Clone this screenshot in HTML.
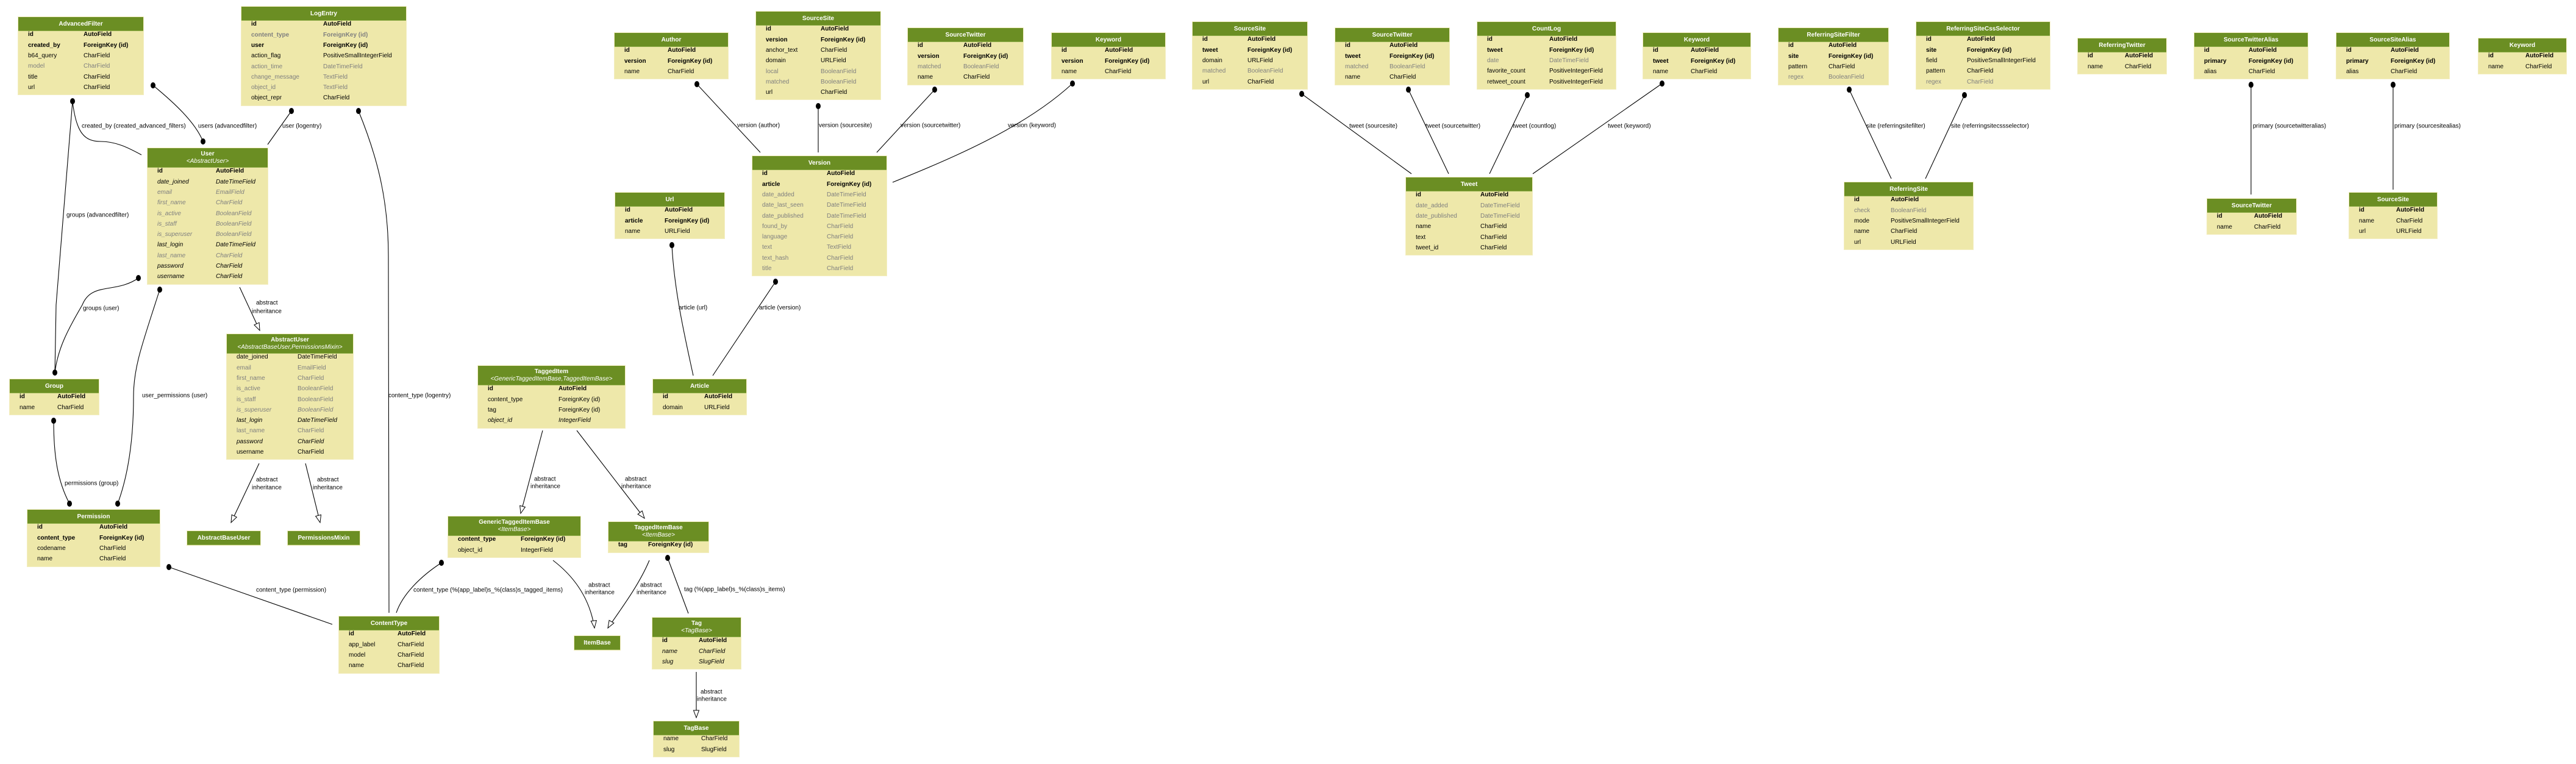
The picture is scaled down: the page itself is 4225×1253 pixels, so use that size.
<!DOCTYPE html>
<html><head><meta charset="utf-8">
<style>
html,body{margin:0;padding:0;background:#fff;}
body{width:4225px;height:1253px;position:relative;overflow:hidden;font-family:"Liberation Sans",Arial,sans-serif;font-size:10px;}
svg{position:absolute;left:0;top:0;}
.t{position:absolute;background:#eee8aa;box-shadow:0 0 0 1px #f3eec2;}
.h{background:#6b8e23;color:#fff;font-weight:bold;text-align:center;height:23px;line-height:23px;white-space:nowrap;border-bottom:1px solid #8fad4a;box-sizing:border-box;}
.h2{height:32px;line-height:12px;padding-top:4px;}
.h2 i{font-weight:normal;display:block;}
.b{padding:0 0 3px;}
.b p{margin:0;height:17.3px;line-height:17.3px;position:relative;white-space:nowrap;color:#000;}
.b p:first-child{margin-top:-2.6px;}
.b p span{position:absolute;left:16px;}
.b p span+span{left:var(--c);}
.B{font-weight:bold;}
.G{color:#7f7f7f !important;}
.GB{color:#7f7f7f !important;font-weight:bold;}
.I{font-style:italic;}
.GI{color:#7f7f7f !important;font-style:italic;}
.o{position:absolute;}
</style></head><body>
<svg width="4225" height="1253" viewBox="0 0 4225 1253" font-family="Liberation Sans, Arial, sans-serif" font-size="10">
<g fill="none" stroke="#000" stroke-width="1.1">
<path d="M119,166 C125,220 140,232 165,232 C190,232 210,242 232,254"/>
<path d="M119,166 L92,500 L90,611"/>
<path d="M251,140 C285,168 320,200 333,232"/>
<path d="M478,182 L439,237"/>
<path d="M588,182 C620,260 637,330 637,420 L638,1005"/>
<path d="M227,456 C190,482 150,462 135,500 C112,540 95,570 90,611"/>
<path d="M262,475 C235,560 219,600 219,650 C219,720 210,780 193,826"/>
<path d="M88,690 C88,750 95,790 114,826"/>
<path d="M393,471 L426,542"/>
<path d="M425,760 L379,857"/>
<path d="M501,760 L525,857"/>
<path d="M277,930 L545,1024"/>
<path d="M724,923 C690,945 660,975 650,1005"/>
<path d="M890,706 L854,842"/>
<path d="M946,706 L1057,850"/>
<path d="M907,919 C945,948 968,985 975,1030"/>
<path d="M1065,919 C1050,955 1025,990 997,1030"/>
<path d="M1095,915 L1129,1006"/>
<path d="M1142,1102 L1142,1177"/>
<path d="M1143,138 L1247,250"/>
<path d="M1342,174 L1342,250"/>
<path d="M1533,147 L1438,250"/>
<path d="M1759,137 C1680,210 1560,260 1464,299"/>
<path d="M1102,402 C1106,480 1125,560 1137,616"/>
<path d="M1272,462 L1169,616"/>
<path d="M2135,154 L2315,285"/>
<path d="M2310,147 L2376,285"/>
<path d="M2505,156 L2443,285"/>
<path d="M2726,137 L2514,285"/>
<path d="M3033,147 L3102,293"/>
<path d="M3222,156 L3158,293"/>
<path d="M3692,139 L3692,319"/>
<path d="M3925,139 L3925,311"/>
</g>
<g fill="#fff" stroke="#000" stroke-width="1">
<polygon points="426,542 425.1,529.1 416.9,532.9"/>
<polygon points="379,857 388.2,848.1 380.1,844.3"/>
<polygon points="525,857 526.5,844.3 517.7,846.5"/>
<polygon points="854,842 861.4,831.6 852.7,829.3"/>
<polygon points="1057,850 1053.2,837.8 1046.1,843.3"/>
<polygon points="975,1030 978.3,1017.6 969.3,1018.5"/>
<polygon points="997,1030 1006.9,1021.8 999.1,1017.3"/>
<polygon points="1142,1177 1146.5,1165 1137.5,1165"/>
</g>
<g fill="#000">
<ellipse cx="119" cy="166" rx="4" ry="5"/>
<ellipse cx="251" cy="140" rx="4" ry="5"/>
<ellipse cx="333" cy="232" rx="4" ry="5"/>
<ellipse cx="478" cy="182" rx="4" ry="5"/>
<ellipse cx="588" cy="182" rx="4" ry="5"/>
<ellipse cx="227" cy="456" rx="4" ry="5"/>
<ellipse cx="262" cy="475" rx="4" ry="5"/>
<ellipse cx="90" cy="611" rx="4" ry="5"/>
<ellipse cx="88" cy="690" rx="4" ry="5"/>
<ellipse cx="114" cy="826" rx="4" ry="5"/>
<ellipse cx="193" cy="826" rx="4" ry="5"/>
<ellipse cx="277" cy="930" rx="4" ry="5"/>
<ellipse cx="724" cy="923" rx="4" ry="5"/>
<ellipse cx="1095" cy="915" rx="4" ry="5"/>
<ellipse cx="1143" cy="138" rx="4" ry="5"/>
<ellipse cx="1342" cy="174" rx="4" ry="5"/>
<ellipse cx="1533" cy="147" rx="4" ry="5"/>
<ellipse cx="1759" cy="137" rx="4" ry="5"/>
<ellipse cx="1102" cy="402" rx="4" ry="5"/>
<ellipse cx="1272" cy="462" rx="4" ry="5"/>
<ellipse cx="2135" cy="154" rx="4" ry="5"/>
<ellipse cx="2310" cy="147" rx="4" ry="5"/>
<ellipse cx="2505" cy="156" rx="4" ry="5"/>
<ellipse cx="2726" cy="137" rx="4" ry="5"/>
<ellipse cx="3033" cy="147" rx="4" ry="5"/>
<ellipse cx="3222" cy="156" rx="4" ry="5"/>
<ellipse cx="3692" cy="139" rx="4" ry="5"/>
<ellipse cx="3925" cy="139" rx="4" ry="5"/>
</g>
<g fill="#000" dominant-baseline="central">
<text x="134" y="207">created_by (created_advanced_filters)</text>
<text x="325" y="207">users (advancedfilter)</text>
<text x="463" y="207">user (logentry)</text>
<text x="109" y="353">groups (advancedfilter)</text>
<text x="136" y="506">groups (user)</text>
<text x="233" y="649">user_permissions (user)</text>
<text x="637" y="649">content_type (logentry)</text>
<text x="106" y="793">permissions (group)</text>
<text x="420" y="497">abstract</text><text x="413" y="511">inheritance</text>
<text x="420" y="787">abstract</text><text x="413" y="800">inheritance</text>
<text x="520" y="787">abstract</text><text x="513" y="800">inheritance</text>
<text x="420" y="968">content_type (permission)</text>
<text x="678" y="968">content_type (%(app_label)s_%(class)s_tagged_items)</text>
<text x="876" y="786">abstract</text><text x="870" y="798">inheritance</text>
<text x="1025" y="786">abstract</text><text x="1019" y="798">inheritance</text>
<text x="965" y="960">abstract</text><text x="959" y="972">inheritance</text>
<text x="1050" y="960">abstract</text><text x="1044" y="972">inheritance</text>
<text x="1122" y="967">tag (%(app_label)s_%(class)s_items)</text>
<text x="1149" y="1135">abstract</text><text x="1143" y="1147">inheritance</text>
<text x="1209" y="206">version (author)</text>
<text x="1343" y="206">version (sourcesite)</text>
<text x="1477" y="206">version (sourcetwitter)</text>
<text x="1653" y="206">version (keyword)</text>
<text x="1113" y="505">article (url)</text>
<text x="1245" y="505">article (version)</text>
<text x="2213" y="207">tweet (sourcesite)</text>
<text x="2338" y="207">tweet (sourcetwitter)</text>
<text x="2481" y="207">tweet (countlog)</text>
<text x="2637" y="207">tweet (keyword)</text>
<text x="3061" y="207">site (referringsitefilter)</text>
<text x="3200" y="207">site (referringsitecssselector)</text>
<text x="3695" y="207">primary (sourcetwitteralias)</text>
<text x="3927" y="207">primary (sourcesitealias)</text>
</g>
</svg>

<div class="t" style="left:30px;top:28px;width:205px;--c:107px"><div class="h">AdvancedFilter</div><div class="b">
<p class="B"><span>id</span><span>AutoField</span></p>
<p class="B"><span>created_by</span><span>ForeignKey (id)</span></p>
<p><span>b64_query</span><span>CharField</span></p>
<p class="G"><span>model</span><span>CharField</span></p>
<p><span>title</span><span>CharField</span></p>
<p><span>url</span><span>CharField</span></p></div></div>

<div class="t" style="left:396px;top:11px;width:270px;--c:134px"><div class="h">LogEntry</div><div class="b">
<p class="B"><span>id</span><span>AutoField</span></p>
<p class="GB"><span>content_type</span><span>ForeignKey (id)</span></p>
<p class="B"><span>user</span><span>ForeignKey (id)</span></p>
<p><span>action_flag</span><span>PositiveSmallIntegerField</span></p>
<p class="G"><span>action_time</span><span>DateTimeField</span></p>
<p class="G"><span>change_message</span><span>TextField</span></p>
<p class="G"><span>object_id</span><span>TextField</span></p>
<p><span>object_repr</span><span>CharField</span></p></div></div>

<div class="t" style="left:242px;top:243px;width:197px;--c:112px"><div class="h h2">User<i>&lt;AbstractUser&gt;</i></div><div class="b">
<p class="B"><span>id</span><span>AutoField</span></p>
<p class="I"><span>date_joined</span><span>DateTimeField</span></p>
<p class="GI"><span>email</span><span>EmailField</span></p>
<p class="GI"><span>first_name</span><span>CharField</span></p>
<p class="GI"><span>is_active</span><span>BooleanField</span></p>
<p class="GI"><span>is_staff</span><span>BooleanField</span></p>
<p class="GI"><span>is_superuser</span><span>BooleanField</span></p>
<p class="I"><span>last_login</span><span>DateTimeField</span></p>
<p class="GI"><span>last_name</span><span>CharField</span></p>
<p class="I"><span>password</span><span>CharField</span></p>
<p class="I"><span>username</span><span>CharField</span></p></div></div>

<div class="t" style="left:372px;top:548px;width:207px;--c:116px"><div class="h h2">AbstractUser<i>&lt;AbstractBaseUser,PermissionsMixin&gt;</i></div><div class="b">
<p><span>date_joined</span><span>DateTimeField</span></p>
<p class="G"><span>email</span><span>EmailField</span></p>
<p class="G"><span>first_name</span><span>CharField</span></p>
<p class="G"><span>is_active</span><span>BooleanField</span></p>
<p class="G"><span>is_staff</span><span>BooleanField</span></p>
<p class="GI"><span>is_superuser</span><span>BooleanField</span></p>
<p class="I"><span>last_login</span><span>DateTimeField</span></p>
<p class="G"><span>last_name</span><span>CharField</span></p>
<p class="I"><span>password</span><span>CharField</span></p>
<p><span>username</span><span>CharField</span></p></div></div>

<div class="t" style="left:16px;top:622px;width:146px;--c:78px"><div class="h">Group</div><div class="b">
<p class="B"><span>id</span><span>AutoField</span></p>
<p><span>name</span><span>CharField</span></p></div></div>

<div class="t" style="left:45px;top:836px;width:217px;--c:118px"><div class="h">Permission</div><div class="b">
<p class="B"><span>id</span><span>AutoField</span></p>
<p class="B"><span>content_type</span><span>ForeignKey (id)</span></p>
<p><span>codename</span><span>CharField</span></p>
<p><span>name</span><span>CharField</span></p></div></div>

<div class="t" style="left:307px;top:871px;width:120px;"><div class="h">AbstractBaseUser</div></div>
<div class="t" style="left:472px;top:871px;width:118px;"><div class="h">PermissionsMixin</div></div>

<div class="t" style="left:556px;top:1011px;width:164px;--c:96px"><div class="h">ContentType</div><div class="b">
<p class="B"><span>id</span><span>AutoField</span></p>
<p><span>app_label</span><span>CharField</span></p>
<p><span>model</span><span>CharField</span></p>
<p><span>name</span><span>CharField</span></p></div></div>

<div class="t" style="left:784px;top:600px;width:241px;--c:132px"><div class="h h2">TaggedItem<i>&lt;GenericTaggedItemBase,TaggedItemBase&gt;</i></div><div class="b">
<p class="B"><span>id</span><span>AutoField</span></p>
<p><span>content_type</span><span>ForeignKey (id)</span></p>
<p><span>tag</span><span>ForeignKey (id)</span></p>
<p class="I"><span>object_id</span><span>IntegerField</span></p></div></div>

<div class="t" style="left:1071px;top:622px;width:153px;--c:84px"><div class="h">Article</div><div class="b">
<p class="B"><span>id</span><span>AutoField</span></p>
<p><span>domain</span><span>URLField</span></p></div></div>

<div class="t" style="left:735px;top:847px;width:217px;--c:119px"><div class="h h2">GenericTaggedItemBase<i>&lt;ItemBase&gt;</i></div><div class="b">
<p class="B"><span>content_type</span><span>ForeignKey (id)</span></p>
<p><span>object_id</span><span>IntegerField</span></p></div></div>

<div class="t" style="left:998px;top:856px;width:164px;--c:65px"><div class="h h2">TaggedItemBase<i>&lt;ItemBase&gt;</i></div><div class="b">
<p class="B"><span>tag</span><span>ForeignKey (id)</span></p></div></div>

<div class="t" style="left:942px;top:1043px;width:75px;"><div class="h">ItemBase</div></div>

<div class="t" style="left:1070px;top:1013px;width:145px;--c:76px"><div class="h h2">Tag<i>&lt;TagBase&gt;</i></div><div class="b">
<p class="B"><span>id</span><span>AutoField</span></p>
<p class="I"><span>name</span><span>CharField</span></p>
<p class="I"><span>slug</span><span>SlugField</span></p></div></div>

<div class="t" style="left:1072px;top:1183px;width:140px;--c:78px"><div class="h">TagBase</div><div class="b">
<p><span>name</span><span>CharField</span></p>
<p><span>slug</span><span>SlugField</span></p></div></div>

<div class="t" style="left:1008px;top:54px;width:186px;--c:87px"><div class="h">Author</div><div class="b">
<p class="B"><span>id</span><span>AutoField</span></p>
<p class="B"><span>version</span><span>ForeignKey (id)</span></p>
<p><span>name</span><span>CharField</span></p></div></div>

<div class="t" style="left:1240px;top:19px;width:204px;--c:106px"><div class="h">SourceSite</div><div class="b">
<p class="B"><span>id</span><span>AutoField</span></p>
<p class="B"><span>version</span><span>ForeignKey (id)</span></p>
<p><span>anchor_text</span><span>CharField</span></p>
<p><span>domain</span><span>URLField</span></p>
<p class="G"><span>local</span><span>BooleanField</span></p>
<p class="G"><span>matched</span><span>BooleanField</span></p>
<p><span>url</span><span>CharField</span></p></div></div>

<div class="t" style="left:1489px;top:46px;width:189px;--c:91px"><div class="h">SourceTwitter</div><div class="b">
<p class="B"><span>id</span><span>AutoField</span></p>
<p class="B"><span>version</span><span>ForeignKey (id)</span></p>
<p class="G"><span>matched</span><span>BooleanField</span></p>
<p><span>name</span><span>CharField</span></p></div></div>

<div class="t" style="left:1725px;top:54px;width:186px;--c:87px"><div class="h">Keyword</div><div class="b">
<p class="B"><span>id</span><span>AutoField</span></p>
<p class="B"><span>version</span><span>ForeignKey (id)</span></p>
<p><span>name</span><span>CharField</span></p></div></div>

<div class="t" style="left:1234px;top:256px;width:220px;--c:122px"><div class="h">Version</div><div class="b">
<p class="B"><span>id</span><span>AutoField</span></p>
<p class="B"><span>article</span><span>ForeignKey (id)</span></p>
<p class="G"><span>date_added</span><span>DateTimeField</span></p>
<p class="G"><span>date_last_seen</span><span>DateTimeField</span></p>
<p class="G"><span>date_published</span><span>DateTimeField</span></p>
<p class="G"><span>found_by</span><span>CharField</span></p>
<p class="G"><span>language</span><span>CharField</span></p>
<p class="G"><span>text</span><span>TextField</span></p>
<p class="G"><span>text_hash</span><span>CharField</span></p>
<p class="G"><span>title</span><span>CharField</span></p></div></div>

<div class="t" style="left:1009px;top:316px;width:179px;--c:81px"><div class="h">Url</div><div class="b">
<p class="B"><span>id</span><span>AutoField</span></p>
<p class="B"><span>article</span><span>ForeignKey (id)</span></p>
<p><span>name</span><span>URLField</span></p></div></div>

<div class="t" style="left:1956px;top:36px;width:188px;--c:90px"><div class="h">SourceSite</div><div class="b">
<p class="B"><span>id</span><span>AutoField</span></p>
<p class="B"><span>tweet</span><span>ForeignKey (id)</span></p>
<p><span>domain</span><span>URLField</span></p>
<p class="G"><span>matched</span><span>BooleanField</span></p>
<p><span>url</span><span>CharField</span></p></div></div>

<div class="t" style="left:2190px;top:46px;width:187px;--c:89px"><div class="h">SourceTwitter</div><div class="b">
<p class="B"><span>id</span><span>AutoField</span></p>
<p class="B"><span>tweet</span><span>ForeignKey (id)</span></p>
<p class="G"><span>matched</span><span>BooleanField</span></p>
<p><span>name</span><span>CharField</span></p></div></div>

<div class="t" style="left:2423px;top:36px;width:227px;--c:118px"><div class="h">CountLog</div><div class="b">
<p class="B"><span>id</span><span>AutoField</span></p>
<p class="B"><span>tweet</span><span>ForeignKey (id)</span></p>
<p class="G"><span>date</span><span>DateTimeField</span></p>
<p><span>favorite_count</span><span>PositiveIntegerField</span></p>
<p><span>retweet_count</span><span>PositiveIntegerField</span></p></div></div>

<div class="t" style="left:2695px;top:54px;width:176px;--c:78px"><div class="h">Keyword</div><div class="b">
<p class="B"><span>id</span><span>AutoField</span></p>
<p class="B"><span>tweet</span><span>ForeignKey (id)</span></p>
<p><span>name</span><span>CharField</span></p></div></div>

<div class="t" style="left:2306px;top:291px;width:207px;--c:122px"><div class="h">Tweet</div><div class="b">
<p class="B"><span>id</span><span>AutoField</span></p>
<p class="G"><span>date_added</span><span>DateTimeField</span></p>
<p class="G"><span>date_published</span><span>DateTimeField</span></p>
<p><span>name</span><span>CharField</span></p>
<p><span>text</span><span>CharField</span></p>
<p><span>tweet_id</span><span>CharField</span></p></div></div>

<div class="t" style="left:2917px;top:46px;width:180px;--c:82px"><div class="h">ReferringSiteFilter</div><div class="b">
<p class="B"><span>id</span><span>AutoField</span></p>
<p class="B"><span>site</span><span>ForeignKey (id)</span></p>
<p><span>pattern</span><span>CharField</span></p>
<p class="G"><span>regex</span><span>BooleanField</span></p></div></div>

<div class="t" style="left:3143px;top:36px;width:219px;--c:83px"><div class="h">ReferringSiteCssSelector</div><div class="b">
<p class="B"><span>id</span><span>AutoField</span></p>
<p class="B"><span>site</span><span>ForeignKey (id)</span></p>
<p><span>field</span><span>PositiveSmallIntegerField</span></p>
<p><span>pattern</span><span>CharField</span></p>
<p class="G"><span>regex</span><span>CharField</span></p></div></div>

<div class="t" style="left:3408px;top:63px;width:145px;--c:77px"><div class="h">ReferringTwitter</div><div class="b">
<p class="B"><span>id</span><span>AutoField</span></p>
<p><span>name</span><span>CharField</span></p></div></div>

<div class="t" style="left:3599px;top:54px;width:186px;--c:89px"><div class="h">SourceTwitterAlias</div><div class="b">
<p class="B"><span>id</span><span>AutoField</span></p>
<p class="B"><span>primary</span><span>ForeignKey (id)</span></p>
<p><span>alias</span><span>CharField</span></p></div></div>

<div class="t" style="left:3832px;top:54px;width:185px;--c:89px"><div class="h">SourceSiteAlias</div><div class="b">
<p class="B"><span>id</span><span>AutoField</span></p>
<p class="B"><span>primary</span><span>ForeignKey (id)</span></p>
<p><span>alias</span><span>CharField</span></p></div></div>

<div class="t" style="left:4065px;top:63px;width:144px;--c:77px"><div class="h">Keyword</div><div class="b">
<p class="B"><span>id</span><span>AutoField</span></p>
<p><span>name</span><span>CharField</span></p></div></div>

<div class="t" style="left:3025px;top:299px;width:211px;--c:76px"><div class="h">ReferringSite</div><div class="b">
<p class="B"><span>id</span><span>AutoField</span></p>
<p class="G"><span>check</span><span>BooleanField</span></p>
<p><span>mode</span><span>PositiveSmallIntegerField</span></p>
<p><span>name</span><span>CharField</span></p>
<p><span>url</span><span>URLField</span></p></div></div>

<div class="t" style="left:3620px;top:326px;width:146px;--c:77px"><div class="h">SourceTwitter</div><div class="b">
<p class="B"><span>id</span><span>AutoField</span></p>
<p><span>name</span><span>CharField</span></p></div></div>

<div class="t" style="left:3853px;top:316px;width:144px;--c:77px"><div class="h">SourceSite</div><div class="b">
<p class="B"><span>id</span><span>AutoField</span></p>
<p><span>name</span><span>CharField</span></p>
<p><span>url</span><span>URLField</span></p></div></div>

</body></html>
